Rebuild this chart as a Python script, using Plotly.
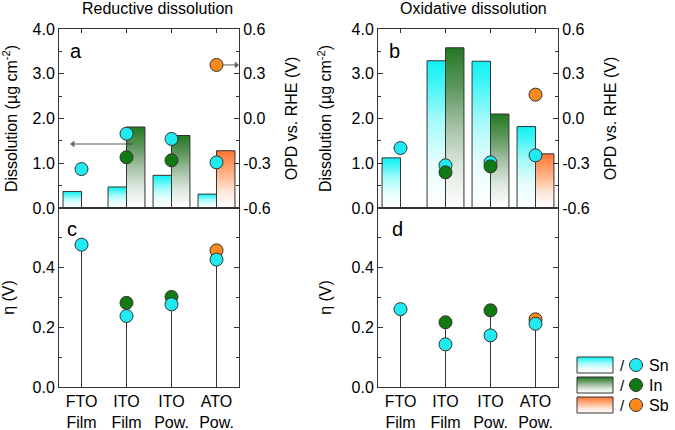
import plotly.graph_objects as go

# ---------------- data ----------------
categories = ["FTO<br>Film", "ITO<br>Film", "ITO<br>Pow.", "ATO<br>Pow."]

# Reductive dissolution (panel a: bars = dissolution, circles = OPD vs RHE)
red_sn_diss = [0.37, 0.47, 0.73, 0.31]
red_in_diss = [None, 1.81, 1.62, None]
red_sb_diss = [None, None, None, 1.28]
red_sn_opd = [-0.339, -0.102, -0.137, -0.294]
red_in_opd = [None, -0.260, -0.280, None]
red_sb_opd = [None, None, None, 0.359]

# Oxidative dissolution (panel b)
ox_sn_diss = [1.12, 3.29, 3.28, 1.82]
ox_in_diss = [None, 3.58, 2.10, None]
ox_sb_diss = [None, None, None, 1.21]
ox_sn_opd = [-0.198, -0.314, -0.294, -0.247]
ox_in_opd = [None, -0.361, -0.321, None]
ox_sb_opd = [None, None, None, 0.160]

# Overpotentials (panels c, d)
red_sn_eta = [0.477, 0.238, 0.277, 0.427]
red_in_eta = [None, 0.282, 0.302, None]
red_sb_eta = [None, None, None, 0.458]
ox_sn_eta = [0.261, 0.143, 0.173, 0.212]
ox_in_eta = [None, 0.217, 0.257, None]
ox_sb_eta = [None, None, None, 0.227]

diss_ticks = [0, 1, 2, 3, 4]
diss_ticktext = ["0.0", "1.0", "2.0", "3.0", "4.0"]
opd_ticks = [-0.6, -0.3, 0.0, 0.3, 0.6]
opd_ticktext = ["-0.6", "-0.3", "0.0", "0.3", "0.6"]
eta_ticks = [0.0, 0.2, 0.4]
eta_ticktext = ["0.0", "0.2", "0.4"]
legend_labels = ["Sn", "In", "Sb"]

# ---------------- style ----------------
FONT = "Liberation Sans, Arial, sans-serif"
AX = "#333333"
C_SN, C_IN, C_SB = "#20eaf2", "#127a12", "#ff8a1c"
GRAD = {
    "Sn": [[0, "#ffffff"], [0.3, "#e6fdfd"], [0.6, "#a4fafa"], [0.88, "#34f4f6"],
           [1, "#12f0f4"]],
    "In": [[0, "#ffffff"], [0.25, "#dfe9df"], [0.5, "#a7c2a7"], [0.75, "#5f985f"],
           [1, "#227822"]],
    "Sb": [[0, "#ffffff"], [0.3, "#ffe5d6"], [0.6, "#ffb386"], [1, "#ff7432"]],
}
MARK = {"Sn": C_SN, "In": C_IN, "Sb": C_SB}
BW = 0.41

W, H = 675, 430
def px_x(a, b):
    return [a / W, b / W]
def px_y(top, bot):
    return [1 - bot / H, 1 - top / H]

fig = go.Figure()

def bar(xa, ya, xl, val, key):
    fig.add_trace(go.Scatter(
        x=[xl, xl, xl + BW, xl + BW, xl], y=[0, val, val, 0, 0],
        xaxis=xa, yaxis=ya, mode="lines", fill="toself",
        fillgradient=dict(type="vertical", colorscale=GRAD[key]),
        line=dict(color=AX, width=1), hoverinfo="skip", showlegend=False))

def bars(xa, ya, sn, inn, sb):
    for i in range(len(categories)):
        if sn[i] is not None:
            bar(xa, ya, i - BW, sn[i], "Sn")
        if inn[i] is not None:
            bar(xa, ya, i, inn[i], "In")
        if sb[i] is not None:
            bar(xa, ya, i, sb[i], "Sb")

def circles(xa, ya, vals, key):
    xs = [i for i, v in enumerate(vals) if v is not None]
    ys = [v for v in vals if v is not None]
    fig.add_trace(go.Scatter(
        x=xs, y=ys, xaxis=xa, yaxis=ya, mode="markers",
        marker=dict(size=13, color=MARK[key], line=dict(color=AX, width=1)),
        hoverinfo="skip", showlegend=False))

def stems(xa, ya, *series):
    xs, ys = [], []
    for i in range(len(categories)):
        vals = [s[i] for s in series if s[i] is not None]
        xs += [i, i, None]
        ys += [0, max(vals), None]
    fig.add_trace(go.Scatter(x=xs, y=ys, xaxis=xa, yaxis=ya, mode="lines",
                             line=dict(color=AX, width=1), hoverinfo="skip",
                             showlegend=False))

def arrow(xa, ya, x0, x1, yv, sym):
    fig.add_trace(go.Scatter(
        x=[x0, x1], y=[yv, yv], xaxis=xa, yaxis=ya, mode="lines+markers",
        line=dict(color=AX, width=0.8),
        marker=dict(symbol=["circle", sym], size=[0, 6], color=AX,
                    line=dict(width=0)),
        hoverinfo="skip", showlegend=False))

# panel a
bars("x", "y", red_sn_diss, red_in_diss, red_sb_diss)
arrow("x", "y", 1.14, -0.19, 1.43, "triangle-left")
circles("x", "y2", red_sn_opd, "Sn")
circles("x", "y2", red_in_opd, "In")
arrow("x", "y2", 3.15, 3.44, red_sb_opd[3], "triangle-right")
circles("x", "y2", red_sb_opd, "Sb")
# panel b
bars("x3", "y4", ox_sn_diss, ox_in_diss, ox_sb_diss)
circles("x3", "y5", ox_sn_opd, "Sn")
circles("x3", "y5", ox_in_opd, "In")
circles("x3", "y5", ox_sb_opd, "Sb")
# panel c
stems("x2", "y3", red_sn_eta, red_in_eta, red_sb_eta)
circles("x2", "y3", red_in_eta, "In")
circles("x2", "y3", red_sb_eta, "Sb")
circles("x2", "y3", red_sn_eta, "Sn")
# panel d
stems("x4", "y6", ox_sn_eta, ox_in_eta, ox_sb_eta)
circles("x4", "y6", ox_in_eta, "In")
circles("x4", "y6", ox_sb_eta, "Sb")
circles("x4", "y6", ox_sn_eta, "Sn")

# legend (own small axes, pixel-like coordinates)
for r, lab in enumerate(legend_labels):
    yt, yb = 357 + 20 * r, 373 + 20 * r
    fig.add_trace(go.Scatter(
        x=[577, 577, 613, 613, 577], y=[yb, yt, yt, yb, yb], xaxis="x5", yaxis="y7",
        mode="lines", fill="toself",
        fillgradient=dict(type="vertical", colorscale=GRAD[lab]),
        line=dict(color=AX, width=1), hoverinfo="skip", showlegend=False))
    fig.add_trace(go.Scatter(
        x=[636], y=[(yt + yb) / 2], xaxis="x5", yaxis="y7", mode="markers",
        marker=dict(size=13, color=MARK[lab], line=dict(color=AX, width=1)),
        hoverinfo="skip", showlegend=False))

tickfont = dict(family=FONT, size=16, color="black")
titlefont = dict(family=FONT, size=16, color="black")

def xcat(domain, anchor, labels, top_ticks):
    d = dict(domain=domain, anchor=anchor, range=[-0.5, 3.5], showgrid=False,
             zeroline=False, showline=True, linecolor=AX, linewidth=1,
             tickvals=list(range(len(categories))), tickfont=tickfont)
    if labels:
        d.update(ticktext=categories, ticks="", mirror=True)
    else:
        d.update(showticklabels=False, ticks="inside", ticklen=4,
                 tickcolor=AX, mirror="ticks" if top_ticks else True)
    return d

def yax(domain, anchor, rng, tv, tt, minor_dt, title, side="left",
        overlaying=None, mirror=False):
    d = dict(domain=domain, anchor=anchor, range=rng, tickvals=tv, ticktext=tt,
             ticks="inside", ticklen=5, tickcolor=AX, showline=True, linecolor=AX,
             linewidth=1, showgrid=False, zeroline=False, tickfont=tickfont,
             side=side, mirror=mirror,
             minor=dict(dtick=minor_dt, tick0=0, ticks="inside", ticklen=3,
                        tickcolor=AX, showgrid=False),
             title=dict(text=title, font=titlefont))
    if overlaying:
        d["overlaying"] = overlaying
    return d

XL = px_x(59, 239)
XR = px_x(378, 558)
YT = px_y(29, 208)
YB = px_y(208, 387)

diss_title = "Dissolution (µg cm<sup>-2</sup>)"
opd_title = "OPD vs. RHE (V)"
eta_title = "η (V)"

fig.update_layout(
    width=W, height=H, margin=dict(l=0, r=0, t=0, b=0, autoexpand=False),
    paper_bgcolor="white", plot_bgcolor="rgba(0,0,0,0)",
    font=dict(family=FONT, size=16, color="black"), showlegend=False,
    xaxis=xcat(XL, "y", False, True),
    xaxis2=xcat(XL, "y3", True, False),
    xaxis3=xcat(XR, "y4", False, True),
    xaxis4=xcat(XR, "y6", True, False),
    yaxis=yax(YT, "x", [0, 4], diss_ticks, diss_ticktext, 0.5, diss_title),
    yaxis2=yax(YT, "x", [-0.6, 0.6], opd_ticks, opd_ticktext, 0.15, opd_title,
               side="right", overlaying="y"),
    yaxis3=yax(YB, "x2", [0, 0.6], eta_ticks, eta_ticktext, 0.1, eta_title,
               mirror="ticks"),
    yaxis4=yax(YT, "x3", [0, 4], diss_ticks, diss_ticktext, 0.5, diss_title),
    yaxis5=yax(YT, "x3", [-0.6, 0.6], opd_ticks, opd_ticktext, 0.15, opd_title,
               side="right", overlaying="y4"),
    yaxis6=yax(YB, "x4", [0, 0.6], eta_ticks, eta_ticktext, 0.1, eta_title,
               mirror="ticks"),
    xaxis5=dict(domain=px_x(570, 675), range=[570, 675], visible=False,
                anchor="y7", fixedrange=True),
    yaxis7=dict(domain=px_y(350, 420), range=[420, 350], visible=False,
                anchor="x5", fixedrange=True),
)

ann = []
# panel titles
ann.append(dict(text="Reductive dissolution", x=157 / W, y=1 - 9 / H, xref="paper",
                yref="paper", xanchor="center", yanchor="middle", showarrow=False,
                font=titlefont))
ann.append(dict(text="Oxidative dissolution", x=473 / W, y=1 - 9 / H, xref="paper",
                yref="paper", xanchor="center", yanchor="middle", showarrow=False,
                font=titlefont))
# panel letters
for letter, px, py in [("a", 76, 51), ("b", 394, 51), ("c", 72, 229), ("d", 397, 229)]:
    ann.append(dict(text=letter, x=px / W, y=1 - py / H, xref="paper", yref="paper",
                    xanchor="center", yanchor="middle", showarrow=False,
                    font=dict(family=FONT, size=20, color="black")))
# legend text
for r, lab in enumerate(legend_labels):
    yc = 365 + 20 * r
    ann.append(dict(text="/", x=622, y=yc, xref="x5", yref="y7", showarrow=False,
                    xanchor="center", font=dict(family=FONT, size=15, color="black")))
    ann.append(dict(text=lab, x=647, y=yc, xref="x5", yref="y7", showarrow=False,
                    xanchor="left", font=dict(family=FONT, size=16, color="black")))
fig.update_layout(annotations=ann)

fig.write_html("out.html", config={"displayModeBar": False},
               post_script="document.body.style.margin='0';document.body.style.overflow='hidden';")
